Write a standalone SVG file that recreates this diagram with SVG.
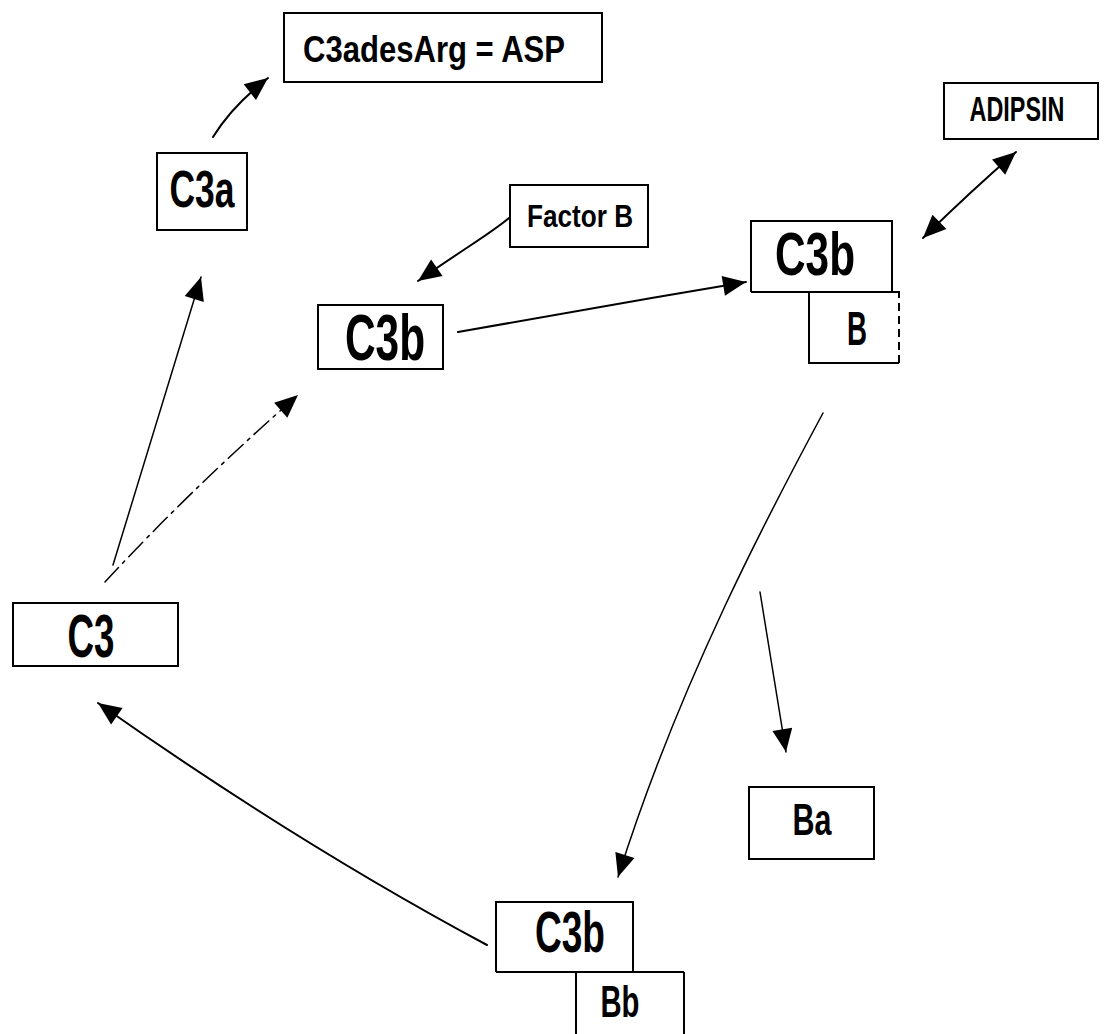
<svg xmlns="http://www.w3.org/2000/svg" width="1104" height="1034" viewBox="0 0 1104 1034">
<style>
.box{fill:none;stroke:#000;stroke-width:2}
.t{font-family:"Liberation Sans Narrow","Liberation Sans",Arial,sans-serif;font-weight:bold;fill:#000;text-anchor:middle}
.c{fill:none;stroke:#000;stroke-width:2;stroke-linecap:round}
.thin{stroke-width:1.5}
.dash{stroke-dasharray:20 6 3 6}
</style>
<defs>
<marker id="ah" markerUnits="userSpaceOnUse" markerWidth="26" markerHeight="24" viewBox="0 0 26 24" refX="24" refY="12" orient="auto">
<path d="M1,2 L24,12 L1,22 Z" fill="#000"/>
</marker>
<marker id="ahs" markerUnits="userSpaceOnUse" markerWidth="26" markerHeight="24" viewBox="0 0 26 24" refX="2" refY="12" orient="auto">
<path d="M25,2 L2,12 L25,22 Z" fill="#000"/>
</marker>
</defs>
<rect width="1104" height="1034" fill="#fff"/>

<g id="connectors">
<path class="c" d="M213,137 Q232,106 268,78" marker-end="url(#ah)"/>
<path class="c" d="M509,218 C490,234 465,248 418,281" marker-end="url(#ah)"/>
<path class="c" d="M458,332 C560,314 650,298 746,282" marker-end="url(#ah)"/>
<path class="c" d="M923,238 Q970,192 1016,152" marker-start="url(#ahs)" marker-end="url(#ah)"/>
<path class="c thin" d="M823,413 C772,508 680,680 618,877" marker-end="url(#ah)"/>
<path class="c thin" d="M760,592 L786,752" marker-end="url(#ah)"/>
<path class="c" d="M487,945 Q300,845 98,703" marker-end="url(#ah)"/>
<path class="c thin" d="M113,565 L201,277" marker-end="url(#ah)"/>
<path class="c thin dash" d="M105,582 Q190,490 298,395" marker-end="url(#ah)"/>
</g>

<g id="node-asp">
<rect class="box" x="284" y="13" width="318" height="69"/>
<text class="t" x="434" y="62" font-size="37" textLength="262" lengthAdjust="spacingAndGlyphs">C3adesArg = ASP</text>
</g>

<g id="node-c3a">
<rect class="box" x="157" y="153" width="90" height="77"/>
<text class="t" x="202" y="207" font-size="52" textLength="65" lengthAdjust="spacingAndGlyphs">C3a</text>
</g>

<g id="node-factorb">
<rect class="box" x="510" y="185" width="138" height="62"/>
<text class="t" x="580" y="227" font-size="32" textLength="106" lengthAdjust="spacingAndGlyphs">Factor B</text>
</g>

<g id="node-c3b-mid">
<rect class="box" x="318" y="305" width="125" height="64"/>
<text class="t" x="385" y="360" font-size="64" textLength="80" lengthAdjust="spacingAndGlyphs">C3b</text>
</g>

<g id="node-c3bB">
<path class="box" d="M751,292 L751,221 L892,221 L892,292"/>
<path class="box" d="M751,292 L900,292"/>
<path class="box" d="M809,292 L809,363 L899,363"/>
<path class="box" d="M899,363 L899,292" stroke-dasharray="8 5"/>
<text class="t" x="815" y="275" font-size="62" textLength="80" lengthAdjust="spacingAndGlyphs">C3b</text>
<text class="t" x="857" y="345" font-size="48" textLength="20" lengthAdjust="spacingAndGlyphs">B</text>
</g>

<g id="node-adipsin">
<rect class="box" x="944" y="83" width="154" height="56"/>
<text class="t" transform="translate(1017,121) scale(0.65,1)" x="0" y="0" font-size="36">ADIPSIN</text>
</g>

<g id="node-c3">
<rect class="box" x="13" y="603" width="165" height="63"/>
<text class="t" x="91" y="657" font-size="61" textLength="47" lengthAdjust="spacingAndGlyphs">C3</text>
</g>

<g id="node-ba">
<rect class="box" x="749" y="787" width="125" height="72"/>
<text class="t" x="812" y="835" font-size="45" textLength="39" lengthAdjust="spacingAndGlyphs">Ba</text>
</g>

<g id="node-c3bBb">
<path class="box" d="M496,972 L496,902 L633,902 L633,972"/>
<path class="box" d="M496,972 L684,972"/>
<path class="box" d="M576,1034 L576,972 M684,972 L684,1034"/>
<text class="t" x="570" y="952" font-size="58" textLength="70" lengthAdjust="spacingAndGlyphs">C3b</text>
<text class="t" x="620" y="1017" font-size="45" textLength="39" lengthAdjust="spacingAndGlyphs">Bb</text>
</g>
</svg>
